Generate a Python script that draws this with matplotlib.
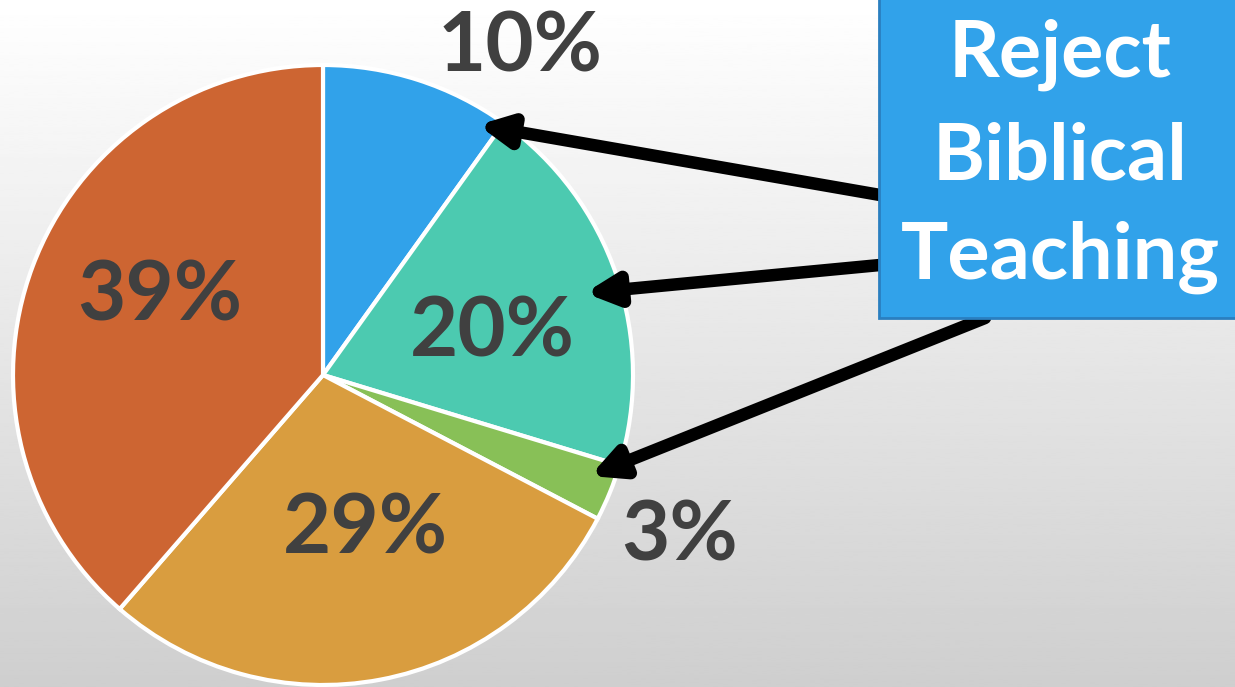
import numpy as np
import matplotlib.pyplot as plt
from matplotlib.patches import Rectangle

W, H = 1235, 687

# slice data, clockwise from 12 o'clock
labels = ["10%", "20%", "3%", "29%", "39%"]
values = [10, 20, 3, 29, 39]
colors = ["#31A2EA", "#4CCAB0", "#88C057", "#D99D3F", "#CD6532"]

# label anchor points (pixel coords, y from top)
label_x = [520, 492, 680, 365, 160]
label_y = [48, 333, 537, 530, 297]

box_lines = ["Reject", "Biblical", "Teaching"]
box_line_y = [55, 157, 257]

# arrows: tail -> tip (pixel coords, y from top)
arrow_tails = [(880, 195), (880, 265), (985, 318)]
arrow_tips = [(478, 125), (585, 293), (590, 476)]


def fy(y):
    return H - y


fig = plt.figure(figsize=(W / 100, H / 100), dpi=100)
ax = fig.add_axes([0, 0, 1, 1])
ax.set_xlim(0, W)
ax.set_ylim(0, H)
ax.set_aspect("equal")
ax.axis("off")

# background gradient
grad = np.linspace(1.0, 0.81, 256).reshape(-1, 1)
ax.imshow(grad, extent=[0, W, 0, H], cmap="gray", vmin=0, vmax=1,
          aspect="auto", zorder=0)

wedges, _ = ax.pie(values, colors=colors, startangle=90, counterclock=False,
                   center=(323, fy(375)), radius=310,
                   wedgeprops=dict(edgecolor="white", linewidth=3))
for w in wedges:
    w.set_zorder(1)
ax.set_xlim(0, W)
ax.set_ylim(0, H)

for lab, x, y in zip(labels, label_x, label_y):
    ax.text(x, fy(y), lab, fontsize=60, fontweight="bold", color="#404040",
            ha="center", va="center", family="Lato", zorder=3)

for (tx, ty), (hx, hy) in zip(arrow_tails, arrow_tips):
    ax.annotate("", xy=(hx, fy(hy)), xytext=(tx, fy(ty)),
                arrowprops=dict(arrowstyle="-|>", lw=9, color="black",
                                mutation_scale=45, shrinkA=0, shrinkB=0),
                zorder=4)

ax.add_patch(Rectangle((879, fy(318)), 360, 320, facecolor="#31A2EA",
                       edgecolor="#2A7FC0", lw=2, zorder=5))
for line, y in zip(box_lines, box_line_y):
    ax.text(1060, fy(y), line, fontsize=57, fontweight="bold",
            color="white", ha="center", va="center", family="Lato",
            zorder=6)

fig.savefig("out.png", dpi=100)
